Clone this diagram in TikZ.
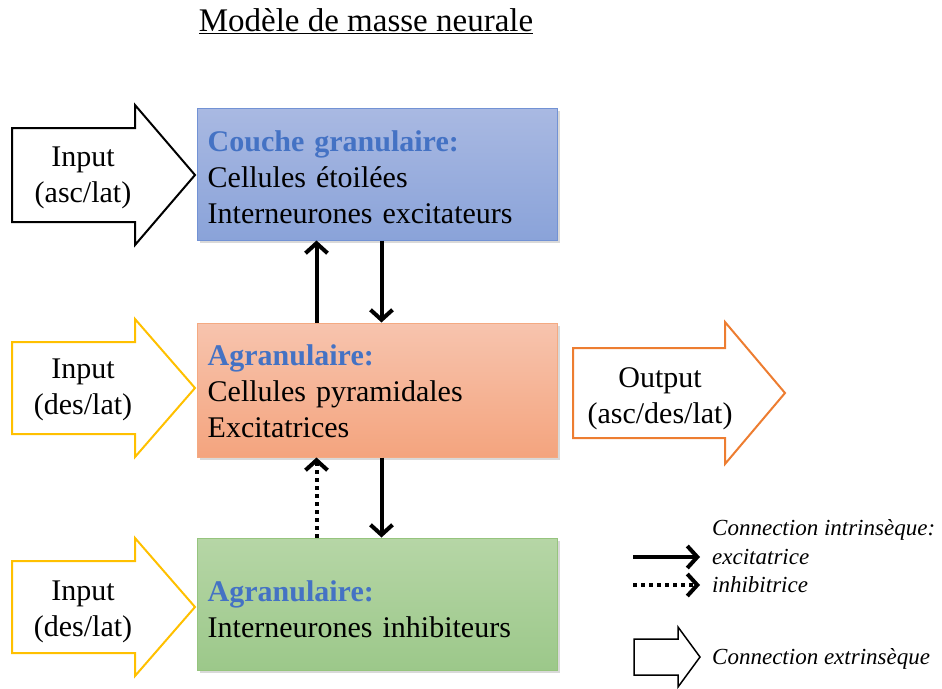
\documentclass[tikz,border=0pt]{standalone}
\usepackage{fontspec}
\setmainfont{Liberation Serif}
\usetikzlibrary{arrows.meta,shadows}

\definecolor{titrebleu}{RGB}{68,114,196}
\definecolor{jaune}{RGB}{255,192,0}
\definecolor{orange}{RGB}{237,125,49}

% grande fleche creuse: x gauche, x base pointe, x pointe, y milieu, demi-corps, demi-tete, style
\newcommand{\grandefleche}[7]{%
    \draw [#7] (#1,#4-#5) -- (#2,#4-#5) -- (#2,#4-#6) -- (#3,#4) -- (#2,#4+#6) -- (#2,#4+#5) -- (#1,#4+#5) -- cycle;}

\begin{document}
\begin{tikzpicture}[x=1pt,y=-1pt]
    \tikzstyle{every node}+=[inner sep=0pt]
    \tikzstyle{boite}=[draw, line width=1pt, minimum width=360pt, minimum height=132pt, drop shadow={opacity=0.3, shadow xshift=3pt, shadow yshift=-3pt}]
    \tikzstyle{contenu}=[anchor=west, xshift=11pt, text width=338pt, align=left, font=\fontsize{30}{36}\selectfont]
    \tikzstyle{texte}=[align=center, font=\fontsize{30}{36}\selectfont]
    \tikzstyle{legende}=[anchor=west, font=\fontsize{23}{27}\selectfont\itshape]
    \tikzstyle{excit}=[line width=4pt, -{Straight Barb[length=10pt,width=22pt,line width=4pt]}]
    \tikzstyle{inhib}=[excit, dash pattern=on 4pt off 4pt]
    \useasboundingbox (0,0) rectangle (942,688);

    % titre
    \node [font=\fontsize{33}{40}\selectfont] (titre) at (366,21) {\underline{Modèle de masse neurale}};

    % couches
    \node [boite, draw={rgb,255:red,114;green,146;blue,212}, top color={rgb,255:red,169;green,185;blue,226}, bottom color={rgb,255:red,138;green,163;blue,217}] (gran) at (377,174) {};
    \node [contenu, yshift=-3pt] (tgran) at (gran.west)
        {\textcolor{titrebleu}{\textbf{Couche granulaire:}}\\Cellules étoilées\\Interneurones excitateurs};
    \node [boite, minimum height=134pt, draw={rgb,255:red,244;green,170;blue,130}, top color={rgb,255:red,247;green,196;blue,174}, bottom color={rgb,255:red,244;green,164;blue,126}] (agr) at (377,390) {};
    \node [contenu, yshift=-1pt] (tagr) at (agr.west)
        {\textcolor{titrebleu}{\textbf{Agranulaire:}}\\Cellules pyramidales\\Excitatrices};
    \node [boite, draw={rgb,255:red,150;green,196;blue,126}, top color={rgb,255:red,182;green,214;blue,166}, bottom color={rgb,255:red,156;green,200;blue,138}] (inh) at (377,604) {};
    \node [contenu, yshift=-5pt] (tinh) at (inh.west)
        {\textcolor{titrebleu}{\textbf{Agranulaire:}}\\Interneurones inhibiteurs};

    % connections intrinseques
    \draw [excit] ([xshift=120pt]agr.north west) -- ([xshift=120pt]gran.south west);
    \draw [excit] ([xshift=185pt]gran.south west) -- ([xshift=185pt]agr.north west);
    \draw [inhib] ([xshift=120pt]inh.north west) -- ([xshift=120pt]agr.south west);
    \draw [excit] ([xshift=185pt]agr.south west) -- ([xshift=185pt]inh.north west);

    % entrees et sortie
    \grandefleche{12}{135}{195}{175}{47}{70}{black, line width=2pt}
    \node [texte] (in1) at (83,178) {Input\\(asc/lat)};
    \grandefleche{12}{135}{195}{388}{46}{69}{jaune, line width=2pt}
    \node [texte] (in2) at (83,390) {Input\\(des/lat)};
    \grandefleche{12}{135}{195}{607}{46}{69}{jaune, line width=2pt}
    \node [texte] (in3) at (83,612) {Input\\(des/lat)};
    \grandefleche{573}{725}{785}{393}{45}{71}{orange, line width=2pt}
    \node [texte] (out) at (660,399) {Output\\(asc/des/lat)};

    % legende
    \node [legende] (lint) at (712,530) {Connection intrinsèque:};
    \coordinate (e1) at (633,557);
    \coordinate (e2) at (700,557);
    \draw [excit] (e1) -- (e2);
    \node [legende] (lexc) at (712,557) {excitatrice};
    \coordinate (i1) at (633,585);
    \coordinate (i2) at (700,585);
    \draw [inhib] (i1) -- (i2);
    \node [legende] (linh) at (712,585) {inhibitrice};
    \grandefleche{634}{678}{700}{657}{18}{30}{black, line width=1.5pt}
    \node [legende] (lext) at (712,659) {Connection extrinsèque};
\end{tikzpicture}
\end{document}
